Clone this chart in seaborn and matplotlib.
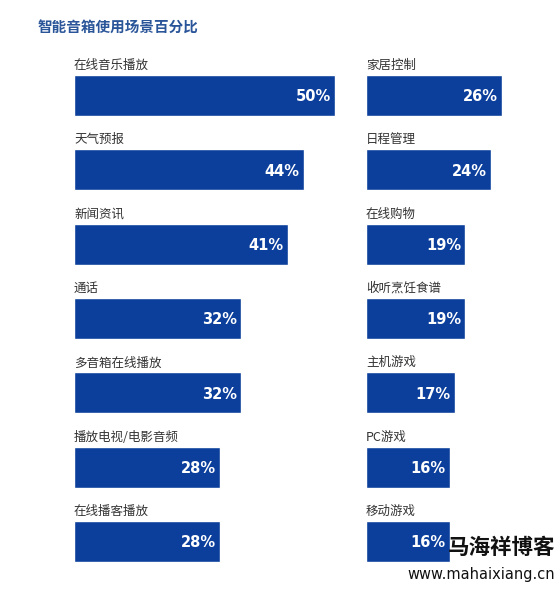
import numpy as np
import pandas as pd
import seaborn as sns
import matplotlib
matplotlib.use("Agg")
import matplotlib.pyplot as plt

sns.set_style("white")
plt.rcParams['font.family'] = ['Noto Sans CJK SC', 'DejaVu Sans']

title = '智能音箱使用场景百分比'
left_labels = ['在线音乐播放', '天气预报', '新闻资讯', '通话', '多音箱在线播放',
               '播放电视/电影音频', '在线播客播放']
left_values = [50, 44, 41, 32, 32, 28, 28]
right_labels = ['家居控制', '日程管理', '在线购物', '收听烹饪食谱', '主机游戏',
                'PC游戏', '移动游戏']
right_values = [26, 24, 19, 19, 17, 16, 16]

bar_color = '#0c3f9c'
W, H = 560, 589
px_per_unit = 5.22
step = 74.33
bar_w = 41 / step
top_px = 95.5 - step / 2
bot_px = 95.5 + step * 6.5

fig = plt.figure(figsize=(W / 100, H / 100), dpi=100)
fig.patch.set_facecolor('white')


def draw(ax_left_px, ax_w_px, labels, values):
    ax = fig.add_axes([ax_left_px / W, 1 - bot_px / H, ax_w_px / W, (bot_px - top_px) / H])
    df = pd.DataFrame({'label': labels, 'value': values})
    sns.barplot(data=df, x='value', y='label', orient='h', color=bar_color,
                width=bar_w, saturation=1, ax=ax)
    ax.set_xlim(0, ax_w_px / px_per_unit)
    ax.set_ylim(len(labels) - 0.5, -0.5)
    ax.axis('off')
    for i, (lab, v) in enumerate(zip(labels, values)):
        ax.text(0, i - bar_w / 2 - 0.04, lab, ha='left', va='bottom',
                fontsize=9, color='#333333')
        ax.text(v - 0.8, i + 0.02, f'{v}%', ha='right', va='center',
                fontsize=10.5, fontweight='bold', color='white',
                family=['DejaVu Sans'])
    return ax


draw(74, 286, left_labels, left_values)
draw(366, 194, right_labels, right_values)

fig.text(38 / W, 1 - 27 / H, title, ha='left', va='center', fontsize=10.5,
         fontweight='bold', color='#2a5599')

# watermark
fig.text(555 / W, 1 - 547 / H, '马海祥博客', ha='right', va='center',
         fontsize=15.5, fontweight='bold', color='#111111')
fig.text(555 / W, 1 - 574 / H, 'www.mahaixiang.cn', ha='right', va='center',
         fontsize=10.5, color='#111111', family=['DejaVu Sans'])

fig.savefig('out.png', dpi=100, facecolor='white')
